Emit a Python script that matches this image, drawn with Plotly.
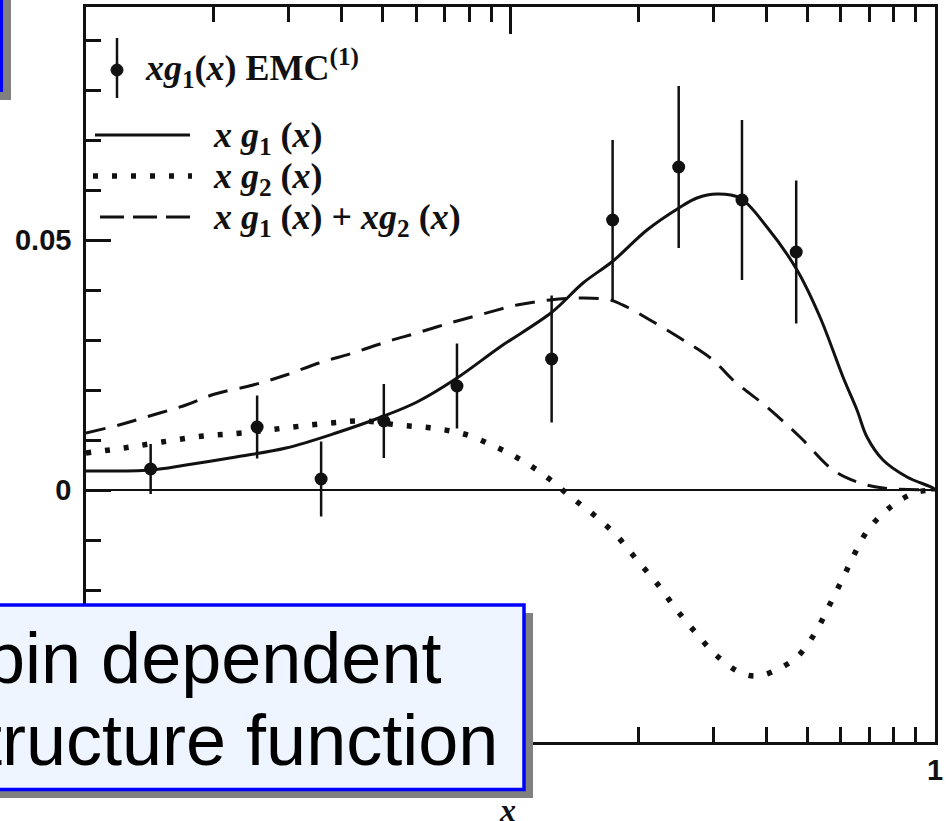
import plotly.graph_objects as go

# ---------------- data ----------------
emc_x = [0.0142, 0.0253, 0.0358, 0.0503, 0.0748, 0.125, 0.174, 0.249, 0.351, 0.471]
emc_y = [0.0042, 0.0126, 0.0022, 0.0138, 0.0208, 0.0262, 0.054, 0.0646, 0.058, 0.0476]
emc_err = [0.005, 0.0063, 0.0075, 0.0074, 0.0085, 0.0127, 0.016, 0.0162, 0.016, 0.0143]

g1_x = [0.0100, 0.0142, 0.0172, 0.02256, 0.02959, 0.0388, 0.05035, 0.06022, 0.07482, 0.09447,
        0.1253, 0.1482, 0.1744, 0.2097, 0.2493, 0.2749, 0.3065, 0.3472, 0.4018, 0.4731,
        0.5358, 0.6071, 0.655, 0.6915, 0.7543, 0.8593, 0.9892, 1.0]
g1_y = [0.0038, 0.0040, 0.0050, 0.0066, 0.0084, 0.0114, 0.0148, 0.0176, 0.0224, 0.0286,
        0.0356, 0.0414, 0.0458, 0.0520, 0.0564, 0.0584, 0.0592, 0.0584, 0.0526, 0.0440,
        0.0346, 0.0226, 0.0160, 0.0106, 0.0060, 0.0026, 0.0004, 0.0]

g2_x = [0.0100, 0.01229, 0.0151, 0.01887, 0.02331, 0.03073, 0.03777, 0.04517, 0.05433, 0.06497,
        0.0777, 0.09243, 0.107, 0.1226, 0.1388, 0.1573, 0.1772, 0.1986, 0.2238, 0.2454,
        0.2735, 0.3048, 0.3491, 0.3808, 0.413, 0.4731, 0.5217, 0.5627, 0.6071, 0.6443,
        0.6953, 0.775, 0.8923, 1.0]
g2_y = [0.0074, 0.0084, 0.0096, 0.0108, 0.0114, 0.0126, 0.0134, 0.0138, 0.0130, 0.0124,
        0.0112, 0.0086, 0.0058, 0.0024, -0.0014, -0.0050, -0.0090, -0.0140, -0.0192, -0.0238,
        -0.0286, -0.0330, -0.0366, -0.0372, -0.0364, -0.0334, -0.0286, -0.0232, -0.0176, -0.0130,
        -0.0080, -0.0038, -0.0006, 0.0]

sum_x = [0.0100, 0.01196, 0.01438, 0.0172, 0.02013, 0.02474, 0.02959, 0.03539, 0.04256, 0.05089,
         0.06022, 0.07204, 0.08613, 0.1036, 0.1239, 0.1482, 0.1715, 0.188, 0.2131, 0.2507,
         0.2999, 0.3342, 0.4018, 0.4808, 0.575, 0.655, 0.7543, 1.0]
sum_y = [0.0114, 0.0130, 0.0150, 0.0170, 0.0192, 0.0210, 0.0230, 0.0254, 0.0274, 0.0296,
         0.0314, 0.0334, 0.0352, 0.0370, 0.0380, 0.0384, 0.0380, 0.0366, 0.0340, 0.0304,
         0.0260, 0.0220, 0.0166, 0.0106, 0.0040, 0.0016, 0.0004, 0.0]

y_tick_vals = [0, 0.05]
y_tick_text = ["0", "0.05"]
x_minor_vals = [0.02, 0.03, 0.04, 0.05, 0.06, 0.07, 0.08, 0.09,
                0.2, 0.3, 0.4, 0.5, 0.6, 0.7, 0.8, 0.9]

# ---------------- layout geometry ----------------
W, H = 947, 821
L, R, T, B = 86, 12, 7, 79
PW, PH = W - L - R, H - T - B


def px(x):
    return (x - L) / PW


def py(y):
    return (H - B - y) / PH


INK = "#111111"
fig = go.Figure()

fig.add_trace(go.Scatter(x=g1_x, y=g1_y, mode="lines",
                         line=dict(color=INK, width=3, shape="spline", smoothing=1.0),
                         showlegend=False))
fig.add_trace(go.Scatter(x=g2_x, y=g2_y, mode="lines",
                         line=dict(color=INK, width=5.5, dash="5px,14px", shape="spline", smoothing=1.0),
                         showlegend=False))
fig.add_trace(go.Scatter(x=sum_x, y=sum_y, mode="lines",
                         line=dict(color=INK, width=3, dash="20px,12px", shape="spline", smoothing=1.0),
                         showlegend=False))
fig.add_trace(go.Scatter(x=emc_x, y=emc_y, mode="markers",
                         marker=dict(color=INK, size=13),
                         error_y=dict(type="data", array=emc_err, width=0, thickness=2.5, color=INK),
                         showlegend=False))

shapes = []
# ---- legend drawn by hand ----
shapes.append(dict(type="line", xref="paper", yref="paper", x0=px(117), x1=px(117), y0=py(38), y1=py(98),
                   line=dict(color=INK, width=2.5)))
shapes.append(dict(type="circle", xref="paper", yref="paper", x0=px(111), x1=px(123), y0=py(76), y1=py(64),
                   fillcolor=INK, line=dict(color=INK, width=1)))
shapes.append(dict(type="line", xref="paper", yref="paper", x0=px(95), x1=px(190), y0=py(135), y1=py(135),
                   line=dict(color=INK, width=3)))
shapes.append(dict(type="line", xref="paper", yref="paper", x0=px(93), x1=px(192), y0=py(176), y1=py(176),
                   line=dict(color=INK, width=5.5, dash="5px,14px")))
shapes.append(dict(type="line", xref="paper", yref="paper", x0=px(100), x1=px(192), y0=py(217), y1=py(217),
                   line=dict(color=INK, width=3, dash="24px,9px")))

# ---- overlay boxes ----
SHADOW = "#808080"
BLUE = "#0000FF"
FILL = "#EEF5FF"
shapes.append(dict(type="rect", xref="paper", yref="paper", x0=px(-40), x1=px(11), y0=py(100), y1=py(-40),
                   fillcolor=SHADOW, line=dict(width=0), layer="above"))
shapes.append(dict(type="rect", xref="paper", yref="paper", x0=px(-40), x1=px(1.5), y0=py(90.5), y1=py(-40),
                   fillcolor=FILL, line=dict(color=BLUE, width=3), layer="above"))
shapes.append(dict(type="rect", xref="paper", yref="paper", x0=px(-40), x1=px(533), y0=py(798), y1=py(613),
                   fillcolor=SHADOW, line=dict(width=0), layer="above"))
shapes.append(dict(type="rect", xref="paper", yref="paper", x0=px(-40), x1=px(524), y0=py(789.5), y1=py(605),
                   fillcolor=FILL, line=dict(color=BLUE, width=3.5), layer="above"))

SERIF = "Liberation Serif, DejaVu Serif, serif"
SANS = "Liberation Sans, Arial, sans-serif"
LEG = 36
annotations = [
    dict(text="<b><i>xg</i><sub>1</sub>(<i>x</i>) EMC<sup>(1)</sup></b>", x=px(143), y=py(68),
         xanchor="left", yanchor="middle", font=dict(family=SERIF, size=LEG, color=INK)),
    dict(text="<b><i>x g</i><sub>1</sub> (<i>x</i>)</b>", x=px(211), y=py(138),
         xanchor="left", yanchor="middle", font=dict(family=SERIF, size=LEG, color=INK)),
    dict(text="<b><i>x g</i><sub>2</sub> (<i>x</i>)</b>", x=px(211), y=py(178),
         xanchor="left", yanchor="middle", font=dict(family=SERIF, size=LEG, color=INK)),
    dict(text="<b><i>x g</i><sub>1</sub> (<i>x</i>) + <i>xg</i><sub>2</sub> (<i>x</i>)</b>", x=px(211), y=py(219),
         xanchor="left", yanchor="middle", font=dict(family=SERIF, size=LEG, color=INK)),
    dict(text="<b><i>x</i></b>", x=px(507), y=py(810), xanchor="center", yanchor="middle",
         font=dict(family=SERIF, size=32, color=INK)),
    dict(text="Spin dependent", x=px(443), y=py(658), xanchor="right", yanchor="middle",
         font=dict(family=SANS, size=72, color="black")),
    dict(text="structure function", x=px(500), y=py(740), xanchor="right", yanchor="middle",
         font=dict(family=SANS, size=72, color="black")),
]
for a in annotations:
    a.update(xref="paper", yref="paper", showarrow=False)

TICKFONT = dict(family="Liberation Sans, Arial, sans-serif", size=29, color=INK, weight="bold")

fig.update_layout(
    width=W, height=H, autosize=False,
    margin=dict(l=L, r=R, t=T, b=B, pad=0),
    paper_bgcolor="white", plot_bgcolor="white",
    shapes=shapes, annotations=annotations,
    showlegend=False,
    xaxis=dict(type="log", range=[-2, 0], showgrid=False, zeroline=False, automargin=False,
               showline=True, linecolor=INK, linewidth=2.5, mirror="ticks",
               ticks="inside", ticklen=27, tickwidth=2.5, tickcolor=INK,
               tickvals=[0.1, 1], ticktext=["", "1"], tickfont=TICKFONT,
               minor=dict(tickvals=x_minor_vals, ticks="inside", ticklen=15, tickwidth=2.5, tickcolor=INK)),
    yaxis=dict(range=[-0.0504, 0.0966], showgrid=False, automargin=False,
               zeroline=True, zerolinecolor=INK, zerolinewidth=2,
               showline=True, linecolor=INK, linewidth=2.5, mirror=True,
               ticks="inside", ticklen=25, tickwidth=2.5, tickcolor=INK,
               tickvals=y_tick_vals, ticktext=y_tick_text, tickfont=TICKFONT, ticklabelstandoff=6,
               minor=dict(dtick=0.01, tick0=0, ticks="inside", ticklen=15, tickwidth=2.5, tickcolor=INK)),
)

fig.write_html(
    "out.html",
    config={"displayModeBar": False},
    post_script="document.body.style.margin='0px';document.body.style.overflow='hidden';",
)
